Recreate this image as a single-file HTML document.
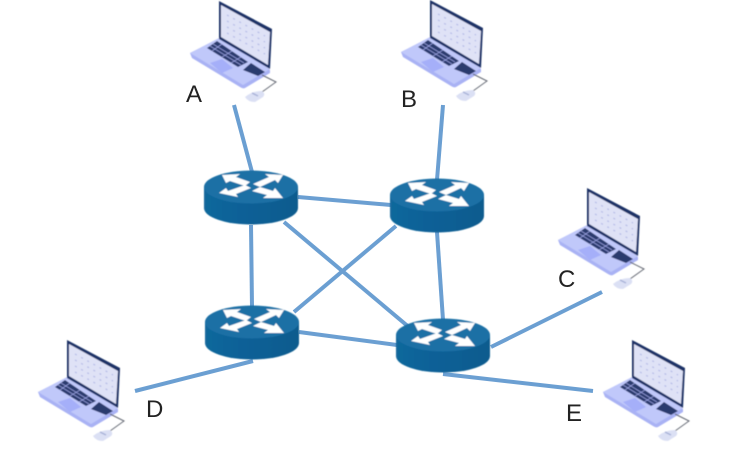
<!DOCTYPE html>
<html>
<head>
<meta charset="utf-8">
<style>
html,body{margin:0;padding:0;background:#fff;width:729px;height:472px;overflow:hidden}
svg{display:block}
text{font-family:"Liberation Sans",sans-serif;font-size:24px;fill:#222}
</style>
</head>
<body>
<svg width="729" height="472" viewBox="0 0 729 472" xmlns="http://www.w3.org/2000/svg">
<defs>
<filter id="soft" x="-5%" y="-5%" width="110%" height="110%"><feGaussianBlur stdDeviation="0.5"/></filter>
<linearGradient id="body" x1="0" x2="1" y1="0" y2="0">
<stop offset="0" stop-color="#12689c"/><stop offset="0.5" stop-color="#0b5f96"/><stop offset="1" stop-color="#0d5c8e"/>
</linearGradient>
<g id="router" filter="url(#soft)">
<path d="M-47 0 V21 A47 16.500 0 0 0 47 21 V0 Z" fill="url(#body)"/>
<ellipse cx="0" cy="0" rx="47" ry="16.500" fill="#1a6fa5"/>
<g fill="#fff">
<polygon points="-29,-12 -11,-13 -15,-10 -1,-5 -6,-1 -21,-6 -25,-4"/>
<polygon points="32,-12 14,-13 18,-10 2,-3 9,0 24,-7 27,-4"/>
<polygon points="-32,6 -25,1 -23,4 -6,-2 0,1 -15,7 -13,10"/>
<polygon points="32,11 24,1 22,4 9,0 1,4 16,8 12,11"/>
</g>
</g>
<g id="laptop" filter="url(#soft)">
<path d="M80 70 L80 73 L55 88 Q53 89 50 87 L2 58 L0 53 L29 39 Z" fill="#a9b2f4"/>
<path d="M0 53 L29 38 L80 69 L53 85 Z" fill="#c0c8fa"/>
<polygon points="29,1 82,29 80,69 29,39" fill="#1f3266"/>
<polygon points="31,5 80,32 78,65 31,37" fill="#dfe2f6"/>
<g stroke="#b3b9e6" stroke-width="1.200" stroke-dasharray="2 5">
<line x1="37" y1="15" x2="75" y2="36"/><line x1="37" y1="21" x2="75" y2="42"/><line x1="37" y1="27" x2="75" y2="48"/><line x1="37" y1="33" x2="75" y2="54"/>
</g>
<polygon points="17,48 27,41 58,62 48,67" fill="#2c3a6e"/>
<polygon points="53,70 61,63 75,72 68,76" fill="#2c3a6e"/>
<g stroke="#a9b2f4" stroke-width="0.600">
<line x1="20" y1="46" x2="51" y2="65"/><line x1="23" y1="44" x2="54" y2="63"/><line x1="32" y1="44" x2="22" y2="51"/><line x1="42" y1="51" x2="32" y2="57"/><line x1="51" y1="57" x2="41" y2="63"/>
</g>
<polygon points="20,63 32,59 43,68 32,73" fill="#a5aff9"/>
<polyline points="72,75 86,82 72,92" fill="none" stroke="#666a75" stroke-width="1"/>
<path d="M55 97 Q62 91 72 91 Q76 94 73 97 L65 102 Q58 102 55 97 Z" fill="#dbe0f4"/>
<line x1="62" y1="93" x2="68" y2="96" stroke="#a9b2d8" stroke-width="1.500"/>
</g>
</defs>

<g stroke="#6b9fd2" stroke-width="4" fill="none">
<line x1="234" y1="105" x2="252" y2="172"/>
<line x1="443" y1="105" x2="437" y2="180"/>
<line x1="298" y1="197" x2="391" y2="205"/>
<line x1="251" y1="225" x2="252" y2="307"/>
<line x1="437" y1="232" x2="443" y2="320"/>
<line x1="284" y1="222" x2="410" y2="328"/>
<line x1="396" y1="226" x2="294" y2="312"/>
<line x1="299" y1="332" x2="397" y2="345"/>
<line x1="135" y1="391" x2="253" y2="361"/>
<line x1="491" y1="347" x2="602" y2="292"/>
<line x1="443" y1="374" x2="593" y2="391"/>
</g>

<use href="#router" x="251" y="187"/>
<use href="#router" x="437" y="195"/>
<use href="#router" x="252" y="322"/>
<use href="#router" x="443" y="335"/>

<use href="#laptop" x="190" y="0"/>
<use href="#laptop" x="401" y="-1"/>
<use href="#laptop" x="558" y="187"/>
<use href="#laptop" x="38" y="339"/>
<use href="#laptop" x="603" y="339"/>

<text x="186" y="102">A</text>
<text x="401" y="107">B</text>
<text x="558" y="287">C</text>
<text x="146" y="417">D</text>
<text x="566" y="421">E</text>
</svg>
</body>
</html>
